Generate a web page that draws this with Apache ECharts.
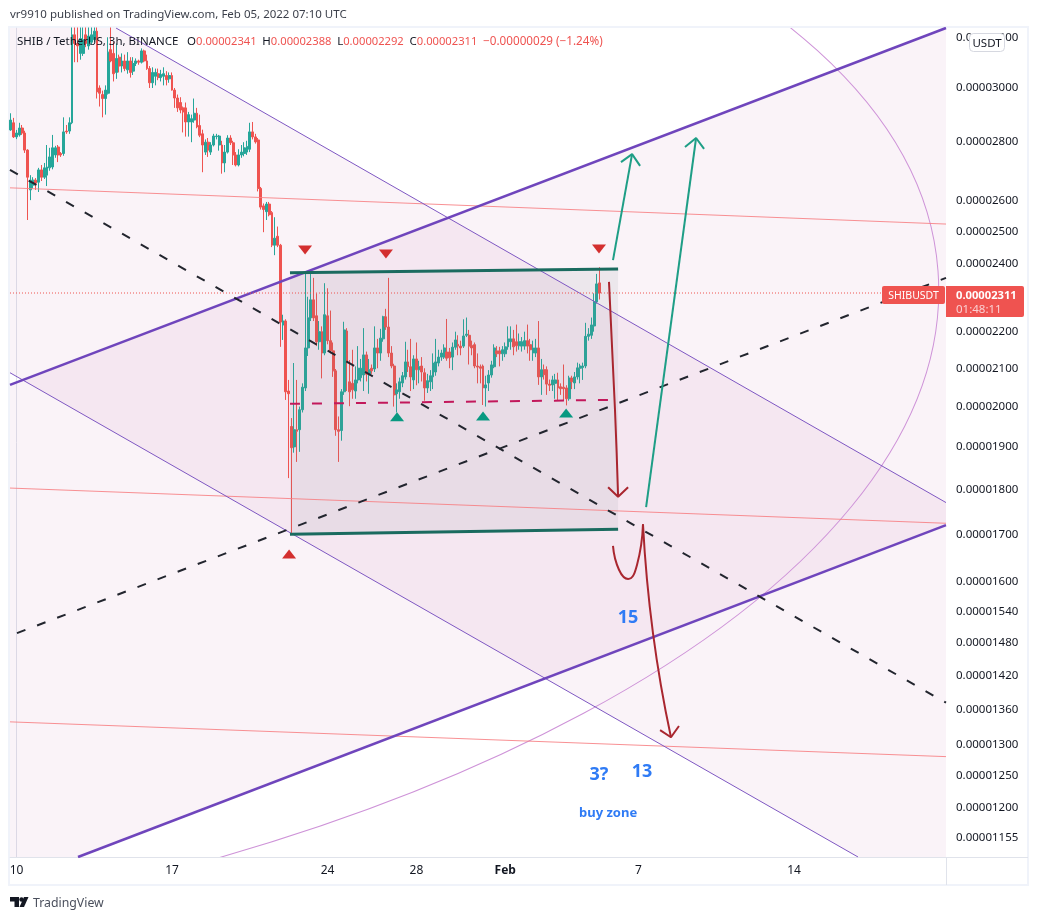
<!DOCTYPE html>
<html><head><meta charset="utf-8">
<style>html,body{margin:0;padding:0;background:#fff}#c{width:1038px;height:920px}</style>
<script src="https://cdn.jsdelivr.net/npm/echarts@6/dist/echarts.min.js"></script>
</head><body><div id="c"></div>
<script>
// Prices below are in units of 0.00000001 USDT. One candle every 3 hours from 2022-01-09 18:00 UTC.
const opens = [2844,2870,2819,2826,2851,2833,2772,2635,2651,2668,
2661,2703,2678,2685,2710,2713,2755,2783,2760,2760,
2840,2840,2870,3210,3175,3135,3135,3210,3165,3180,
3190,3225,3000,2975,2960,2980,3150,3135,3060,3120,
3085,3105,3070,3105,3065,3095,3105,3100,3145,3105,
3075,3020,3045,3055,3040,3045,3048,3035,3048,2992,
2962,2945,2925,2925,2873,2873,2880,2905,2860,2830,
2765,2800,2765,2790,2820,2790,2790,2727,2765,2815,
2798,2755,2720,2755,2760,2765,2775,2837,2819,2808,
2640,2582,2563,2588,2560,2456,2484,2456,2219,2230,
2040,1950,1900,1942,1942,1992,2048,2155,2239,2291,
2245,2172,2200,2141,2245,2175,2147,2093,1942,1940,
2038,2202,2064,2060,2040,2069,2075,2082,2136,2082,
2100,2098,2155,2141,2180,2242,2213,2141,2106,2033,
2038,2061,2077,2117,2104,2069,2125,2096,2106,2088,
2048,2064,2077,2090,2114,2130,2130,2144,2144,2130,
2157,2165,2160,2160,2190,2190,2162,2164,2106,2104,
2106,2048,2061,2082,2104,2147,2147,2139,2139,2158,
2172,2180,2172,2161,2160,2160,2175,2164,2141,2141,
2155,2077,2096,2096,2058,2056,2060,2069,2051,2050,
2048,2020,2074,2061,2077,2100,2102,2106,2187,2190,
2216,2285,2341];
const closes = [2880,2819,2833,2851,2833,2772,2678,2668,2668,2658,
2703,2678,2710,2713,2748,2780,2780,2755,2755,2837,
2837,2870,3210,3175,3165,3195,3190,3175,3205,3210,
3225,2985,2980,2960,2992,3140,3105,3055,3115,3085,
3105,3075,3105,3060,3095,3105,3100,3145,3105,3075,
3020,3060,3060,3040,3052,3055,3032,3048,2992,2962,
2925,2917,2910,2873,2900,2885,2905,2855,2825,2790,
2800,2772,2790,2822,2822,2822,2727,2765,2815,2798,
2755,2720,2755,2765,2780,2785,2837,2819,2801,2640,
2578,2570,2588,2553,2456,2478,2456,2227,2230,2038,
2033,1898,1942,1938,1992,2050,2155,2239,2291,2239,
2172,2200,2141,2248,2175,2147,2093,1942,1938,2038,
2205,2114,2038,2043,2069,2100,2100,2136,2084,2096,
2093,2155,2141,2182,2242,2213,2141,2106,2030,2043,
2064,2080,2117,2104,2077,2125,2096,2104,2090,2048,
2067,2080,2114,2117,2130,2141,2155,2127,2128,2157,
2177,2160,2155,2188,2193,2160,2155,2106,2103,2100,
2048,2056,2082,2109,2155,2139,2139,2150,2158,2180,
2180,2158,2161,2172,2172,2175,2160,2150,2155,2155,
2077,2096,2083,2058,2055,2069,2069,2048,2046,2046,
2020,2074,2064,2077,2101,2106,2106,2187,2193,2219,
2285,2338,2311];
const highs = [2905,2888,2844,2870,2862,2841,2775,2685,2678,2675,
2710,2720,2727,2790,2780,2826,2787,2790,2765,2890,
2862,2890,3240,3240,3240,3240,3240,3240,3240,3240,
3240,3240,3010,2990,3010,3200,3240,3180,3175,3130,
3135,3130,3140,3120,3120,3115,3110,3155,3150,3130,
3085,3080,3075,3075,3070,3080,3065,3060,3060,3000,
2975,2965,2930,2945,2910,2900,2960,2925,2900,2845,
2810,2815,2800,2830,2830,2826,2805,2790,2825,2825,
2805,2765,2775,2790,2800,2805,2870,2873,2830,2815,
2645,2590,2595,2595,2565,2545,2515,2460,2248,2235,
2069,1971,2114,2069,2000,2060,2375,2300,2370,2356,
2310,2230,2215,2340,2325,2260,2170,2098,1975,2045,
2228,2210,2122,2150,2105,2160,2125,2210,2145,2125,
2110,2215,2180,2208,2245,2265,2356,2160,2112,2060,
2075,2090,2172,2150,2180,2135,2170,2120,2130,2100,
2085,2095,2140,2180,2150,2150,2165,2236,2155,2170,
2200,2190,2175,2235,2240,2205,2175,2170,2140,2110,
2110,2080,2095,2120,2165,2160,2158,2160,2170,2215,
2215,2205,2220,2195,2185,2200,2220,2180,2175,2180,
2230,2125,2110,2105,2070,2080,2085,2088,2060,2110,
2055,2080,2080,2090,2115,2112,2115,2225,2210,2240,
2310,2368,2388];
const lows = [2841,2815,2811,2820,2826,2762,2536,2601,2640,2635,
2628,2665,2672,2648,2700,2705,2745,2730,2748,2752,
2830,2830,2865,3100,3100,3110,3125,3160,3150,3170,
3180,2960,2930,2890,2900,2975,3100,3025,3035,3060,
3060,3065,3055,3040,3050,3085,3090,3095,3100,3070,
3000,3000,3010,3030,3025,3010,3010,3020,2990,2925,
2910,2905,2835,2820,2820,2800,2870,2850,2818,2695,
2755,2748,2755,2785,2810,2770,2690,2695,2760,2790,
2720,2715,2715,2745,2750,2755,2765,2810,2795,2630,
2570,2497,2536,2548,2450,2425,2450,2158,2177,2017,
1826,1700,1886,1864,1888,1985,2040,2133,2230,2230,
2160,2150,2073,2135,2165,2140,2077,1927,1864,1915,
2030,2040,2001,2020,2020,2060,2065,2040,2065,2033,
2085,2090,2100,2120,2172,2205,2130,2100,2000,1985,
2020,2050,2070,2090,2040,2045,2055,2060,2065,2015,
2035,2040,2045,2080,2105,2120,2125,2120,2100,2095,
2150,2135,2135,2155,2185,2110,2135,2100,2060,2060,
2004,2000,2040,2075,2100,2130,2105,2120,2130,2150,
2150,2135,2145,2150,2145,2150,2140,2120,2120,2130,
2056,2030,2070,2030,2040,2040,2020,2015,2030,2015,
2003,2015,2045,2045,2070,2060,2069,2100,2175,2180,
2200,2280,2292];

const priceTicks = [1155,1200,1250,1300,1360,1420,1480,1540,1600,1700,1800,1900,2000,2100,2200,2400,2500,2600,2800,3000,3200];
const dateTicks = [[0,'10'],[7,'17'],[14,'24'],[18,'28'],[22,'Feb'],[28,'7'],[35,'14']];

// Drawings: [days since Jan 10, price]
const upperThick = [[-0.293,2056],[41.84,3238]];
const lowerThick = [[2.769,1127.4],[41.84,1720]];
const upperThin = [[4.48,3238],[41.84,1770]];
const lowerThin = [[-0.293,2088],[37.88,1127.4]];
const dashFalling = [[-0.293,2703],[41.84,1372]];
const dashRising = [[0.0225,1499],[41.84,2356]];
const pinkTop = [[-0.293,2642],[41.84,2523]];
const pinkMid = [[-0.293,1803],[41.84,1724]];
const pinkLow = [[-0.293,1339],[41.84,1281]];
const boxTop = [[12.31,2371],[27.08,2383]];
const boxBottom = [[12.31,1700],[27.08,1711]];
const boxFill = [[12.31,2371],[27.08,2383],[27.08,1711],[12.31,1700]];
const crimsonDash = [[12.31,2007],[26.81,2017]];
const bandThin = [[4.48,3238],[41.84,1770],[41.84,1127.4],[37.88,1127.4],[-0.293,2088],[-0.293,3238]];
const bandThick = [[-0.293,2056],[41.84,3238],[41.84,1720],[2.769,1127.4],[-0.293,1127.4]];
// Ellipse tool: centre, end of long axis, end of short axis
const ellipseAnchors = [[-17.80,2098],[41.48,2377],[-15.84,996]];
const lastPriceLine = [[-0.293,2311],[41.84,2311]];
const tealArrowA = [[26.85,2410],[27.71,2758]];
const tealHeadA = [[27.21,2730],[27.71,2758],[28.07,2717]];
const tealArrowB = [[28.34,1760],[30.59,2815]];
const tealHeadB = [[30.09,2783],[30.59,2815],[30.95,2776]];
const redArrowC = [[26.67,2344],[26.94,1992],[27.08,1783]];
const redHeadC = [[26.63,1805],[27.08,1783],[27.53,1805]];
const redCurveD = [[26.85,1675],[27.12,1625],[27.53,1606],[27.93,1635],[28.20,1722]];
const redArrowE = [[28.20,1722],[28.65,1499],[29.46,1313]];
const redHeadE = [[28.97,1325],[29.46,1313],[29.82,1332]];
const sellMarks = [[12.99,2441],[16.63,2429],[26.22,2444]];
const lowMark = [[12.27,1658]];
const buyMarks = [[17.13,1974],[21.0,1976],[24.74,1984]];
const notes = [[27.53,1528,'15',18],[26.22,1251,'3?',18],[28.16,1257,'13',18],[26.63,1192,'buy zone',13]];

const UNIT = 1e-8, FIRST_DAY = -0.25, CANDLE_DAYS = 0.125;
const FONT = '"Noto Sans", sans-serif';
const toXY = p => [p[0], p[1]*UNIT];
const UP = '#26a69a', DOWN = '#ef5350', BLUE = '#2f7bf5';

function lineSeries(points, color, width, extra){
  return Object.assign({type:'line', data:points.map(toXY), symbol:'none', silent:true, animation:false, z:5,
    lineStyle:{color, width, type:(extra&&extra.dash)||'solid', opacity:(extra&&extra.opacity)||1, cap:'butt'}}, extra&&extra.smooth?{smooth:extra.smooth}:{});
}
function polySeries(points, fill, z){
  const verts = points.map(toXY);
  return {type:'custom', data:verts, silent:true, animation:false, z, clip:true, encode:{x:0,y:1},
    renderItem(params, api){
      if(params.dataIndex!==0) return;
      return {type:'polygon', shape:{points:verts.map(v=>api.coord(v))}, style:{fill}, silent:true};
    }};
}
function ellipseSeries(anchors, stroke, z){
  const pts = anchors.map(toXY);
  return {type:'custom', data:pts, silent:true, animation:false, z, encode:{x:0,y:1},
    renderItem(params, api){
      if(params.dataIndex!==0) return;
      const c = api.coord(pts[0]), M = api.coord(pts[1]), m = api.coord(pts[2]);
      const cs = params.coordSys;
      return {type:'group', silent:true,
        clipPath:{type:'rect', shape:{x:cs.x, y:cs.y, width:cs.width, height:cs.height}},
        children:[{type:'ellipse', x:c[0], y:c[1], rotation:-Math.atan2(M[1]-c[1], M[0]-c[0]),
          shape:{cx:0, cy:0, rx:Math.hypot(M[0]-c[0], M[1]-c[1]), ry:Math.hypot(m[0]-c[0], m[1]-c[1])},
          style:{fill:null, stroke, lineWidth:1}, silent:true}]};
    }};
}
function markSeries(points, color, rotate){
  return {type:'scatter', data:points.map(toXY), symbol:'triangle', symbolSize:[14,9], symbolRotate:rotate, silent:true, animation:false, z:6, itemStyle:{color, opacity:1}};
}

const chart = echarts.init(document.getElementById('c'), null, {renderer:'canvas'});
chart.setOption({
  animation:false, backgroundColor:'#ffffff',
  title:[
    {text:'vr9910 published on TradingView.com, Feb 05, 2022 07:10 UTC', left:10, top:9, padding:0, textStyle:{fontFamily:FONT,fontSize:11.5,fontWeight:'normal',color:'#3b3f4a'}},
    {text:'{n|SHIB / TetherUS, 3h, BINANCE}   {k|O}{v|0.00002341}  {k|H}{v|0.00002388}  {k|L}{v|0.00002292}  {k|C}{v|0.00002311}  {w|\u22120.00000029 (\u22121.24%)}',
     left:17, top:36, padding:0, z:20, textStyle:{fontFamily:FONT,fontSize:11,fontWeight:'normal',rich:{
       n:{fontFamily:FONT,fontSize:11.5,color:'#131722'},k:{fontFamily:FONT,fontSize:11.5,color:'#131722'},v:{fontFamily:FONT,fontSize:11.2,color:DOWN},w:{fontFamily:FONT,fontSize:11.7,color:DOWN}}}}
  ],
  grid:{left:10,top:28,right:92,bottom:63,show:false},
  tooltip:{show:false},
  xAxis:{type:'value', min:-0.2926, max:41.84, splitLine:{show:false}, axisTick:{show:false},
    axisLine:{show:true,lineStyle:{color:'#e0e3eb',width:1}},
    axisLabel:{customValues:dateTicks.map(t=>t[0]), margin:8, hideOverlap:false, showMinLabel:true, showMaxLabel:true, color:'#131722', fontFamily:FONT, fontSize:12,
      rich:{b:{fontFamily:FONT,fontSize:12,fontWeight:'bold',color:'#131722'}},
      formatter:v=>{const t=dateTicks.find(x=>x[0]===Math.round(v));const s=t?t[1]:'';return s==='Feb'?'{b|Feb}':s;}}},
  yAxis:{type:'log', logBase:10, position:'right', min:1127.4*UNIT, max:3238*UNIT, splitLine:{show:false}, minorTick:{show:false}, minorSplitLine:{show:false},
    axisTick:{show:false}, axisLine:{show:true,lineStyle:{color:'#e0e3eb',width:1}},
    axisLabel:{customValues:priceTicks.map(p=>p*UNIT), margin:10, padding:[6,0,0,0], color:'#131722', fontFamily:FONT, fontSize:11.5, formatter:v=>Number(v).toFixed(8)}},
  series:[
    polySeries(bandThin,'rgba(156,39,130,0.055)',1),
    polySeries(bandThick,'rgba(156,39,130,0.055)',1),
    {type:'candlestick', z:3, animation:false, silent:true, barWidth:2.4,
      data:opens.map((o,i)=>[FIRST_DAY+i*CANDLE_DAYS,o*UNIT,closes[i]*UNIT,lows[i]*UNIT,highs[i]*UNIT]),
      encode:{x:0,y:[1,2,3,4]},
      itemStyle:{color:UP,color0:DOWN,borderColor:UP,borderColor0:DOWN,borderWidth:1}},
    polySeries(boxFill,'rgba(120,123,134,0.10)',4),
    lineSeries(pinkTop,'#f77c80',1,{opacity:.85}),
    lineSeries(pinkMid,'#f77c80',1,{opacity:.85}),
    lineSeries(pinkLow,'#f77c80',1,{opacity:.85}),
    lineSeries(upperThin,'#7e57c2',1),
    lineSeries(lowerThin,'#7e57c2',1),
    ellipseSeries(ellipseAnchors,'#ce93d8',5),
    lineSeries(upperThick,'#6f45bc',2.5),
    lineSeries(lowerThick,'#6f45bc',2.5),
    lineSeries(dashFalling,'#22252e',2,{dash:[9,12.5]}),
    lineSeries(dashRising,'#22252e',2,{dash:[9,12.5]}),
    lineSeries(lastPriceLine,'#ef5350',1,{dash:[1,2]}),
    lineSeries(crimsonDash,'#c2185b',2,{dash:[10,12]}),
    lineSeries(boxTop,'#1a6b5f',3),
    lineSeries(boxBottom,'#1a6b5f',3),
    lineSeries(tealArrowA,'#1e9e86',2), lineSeries(tealHeadA,'#1e9e86',2),
    lineSeries(tealArrowB,'#1e9e86',2), lineSeries(tealHeadB,'#1e9e86',2),
    lineSeries(redArrowC,'#a9262f',2,{smooth:0.5}), lineSeries(redHeadC,'#a9262f',2),
    lineSeries(redCurveD,'#a9262f',2,{smooth:0.5}),
    lineSeries(redArrowE,'#a9262f',2,{smooth:0.5}), lineSeries(redHeadE,'#a9262f',2),
    markSeries(sellMarks,'#d32f2f',180),
    markSeries(lowMark,'#d32f2f',0),
    markSeries(buyMarks,'#089981',0),
    {type:'scatter', z:7, silent:true, animation:false, symbolSize:0, itemStyle:{opacity:1},
      data:notes.map(n=>({value:toXY(n), label:{show:true, position:'inside', formatter:n[2], color:BLUE, opacity:1, fontFamily:FONT, fontWeight:'bold', fontSize:n[3]}}))}
  ],
  graphic:[
    {type:'rect',z:-1,silent:true,shape:{x:9,y:27,width:1019,height:858},style:{fill:'none',stroke:'#f0f3fa',lineWidth:2}},
    {type:'line',z:10,silent:true,shape:{x1:946.5,y1:857,x2:946.5,y2:885},style:{stroke:'#e0e3eb',lineWidth:1}},
    {type:'line',z:10,silent:true,shape:{x1:946,y1:857.5,x2:1028,y2:857.5},style:{stroke:'#e0e3eb',lineWidth:1}},
    {type:'rect',z:30,silent:true,shape:{x:882,y:286,width:63,height:18,r:2},style:{fill:'#ef5350'}},
    {type:'text',z:31,silent:true,style:{x:913.5,y:296,text:'SHIBUSDT',fill:'#fff',font:'10.5px '+FONT,align:'center',verticalAlign:'middle'}},
    {type:'rect',z:30,silent:true,shape:{x:946,y:286,width:78,height:31,r:[0,2,2,0]},style:{fill:'#ef5350'}},
    {type:'text',z:31,silent:true,style:{x:956,y:296,text:'0.00002311',fill:'#fff',font:'bold 11.2px '+FONT,verticalAlign:'middle'}},
    {type:'text',z:31,silent:true,style:{x:956,y:310,text:'01:48:11',fill:'#fbd0d2',font:'11.5px '+FONT,verticalAlign:'middle'}},
    {type:'rect',z:30,silent:true,shape:{x:969.5,y:33.5,width:35,height:18,r:4},style:{fill:'#fff',stroke:'#d6d8e0',lineWidth:1}},
    {type:'text',z:31,silent:true,style:{x:987,y:44,text:'USDT',fill:'#131722',font:'11.5px '+FONT,align:'center',verticalAlign:'middle'}},
    {type:'polygon',silent:true,shape:{points:[[10,897],[19,897],[19,907],[14.5,907],[14.5,901.5],[10,901.5]]},style:{fill:'#131722'}},
    {type:'circle',silent:true,shape:{cx:21.5,cy:899.5,r:2.2},style:{fill:'#131722'}},
    {type:'polygon',silent:true,shape:{points:[[28.5,897],[24,907],[19.5,907],[24,897]]},style:{fill:'#131722'}},
    {type:'text',silent:true,style:{x:33,y:903.5,text:'TradingView',fill:'#4a4f5c',font:'12.3px '+FONT,verticalAlign:'middle'}}
  ]
});
</script></body></html>
